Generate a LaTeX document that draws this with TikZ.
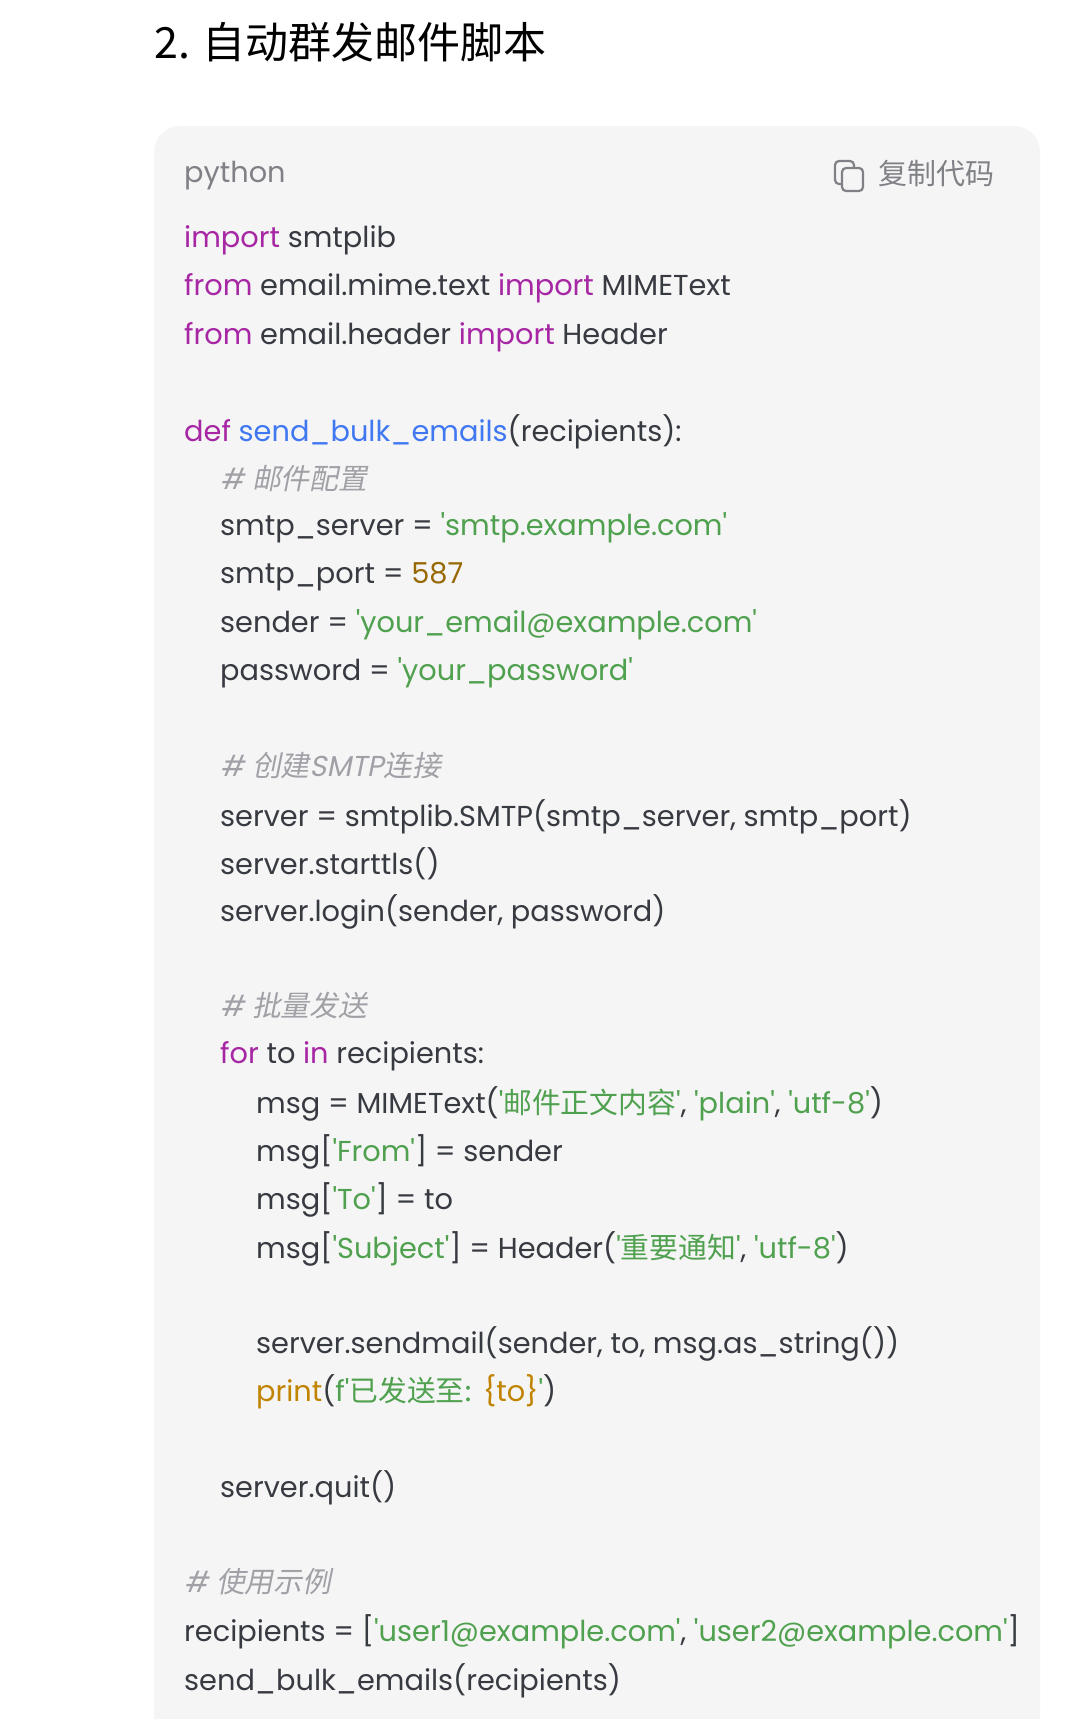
\documentclass[tikz,border=0pt]{standalone}
\usepackage{fontspec}
\setmainfont{Poppins}[Ligatures=TeXOff]
\newfontfamily\cjk{Noto Sans CJK SC}
\newfontfamily\cjkit{Noto Sans CJK SC}[FakeSlant=0.2]
\newfontfamily\latit{Poppins}[FakeSlant=0.2,Ligatures=TeXOff]
\definecolor{kw}{HTML}{A626A4}
\definecolor{fn}{HTML}{4078F2}
\definecolor{st}{HTML}{50A14F}
\definecolor{nm}{HTML}{986801}
\definecolor{pr}{HTML}{C18401}
\definecolor{cm}{HTML}{A0A1A7}
\definecolor{tx}{HTML}{383A42}
\definecolor{bg}{HTML}{F5F5F5}
\newcommand{\K}[1]{\textcolor{kw}{#1}}
\newcommand{\F}[1]{\textcolor{fn}{#1}}
\newcommand{\Sg}[1]{\textcolor{st}{#1}}
\newcommand{\Nm}[1]{\textcolor{nm}{#1}}
\newcommand{\Pt}[1]{\textcolor{pr}{#1}}
\newcommand{\C}[1]{{\cjk #1}}
\newcommand{\Cm}[1]{\textcolor{cm}{\latit\# \cjkit #1}}
\begin{document}
\begin{tikzpicture}[x=1pt,y=1pt,
  code/.style={anchor=west,inner sep=0pt,text=tx,font=\fontsize{28.8}{32}\selectfont},
  head/.style={anchor=west,inner sep=0pt,text=black,font=\fontsize{43}{46}\selectfont\cjk}]
\useasboundingbox (0,0) rectangle (1080,-1719);
\fill[white] (0,0) rectangle (1080,-1719);
\fill[bg,rounded corners=26pt] (154,-126) rectangle (1040,-1760);
\node[head] (title) at (154,-42) {2. 自动群发邮件脚本};
\node[code,text=cm!80!black] (lang) at (184,-176) {python};
\node[code,text=cm!80!black,font=\fontsize{29}{32}\selectfont\cjk] (copy) at (878,-174) {复制代码};
\draw[cm!80!black,line width=2.2pt,rounded corners=4pt] (835,-161) rectangle (854,-184);
\fill[bg] (842,-168) rectangle (863,-191);
\draw[cm!80!black,line width=2.2pt,rounded corners=4pt] (842,-168) rectangle (863,-191);
\node[code] (l1) at (184,-240) {\K{import} smtplib};
\node[code] (l2) at (184,-288) {\K{from} email.mime.text \K{import} MIMEText};
\node[code] (l3) at (184,-337) {\K{from} email.header \K{import} Header};
\node[code] (l4) at (184,-432) {\K{def} \F{send\_bulk\_emails}(recipients):};
\node[code] (l5) at (220,-479) {\Cm{邮件配置}};
\node[code] (l6) at (220,-528) {smtp\_server = \Sg{'smtp.example.com'}};
\node[code] (l7) at (220,-577) {smtp\_port = \Nm{587}};
\node[code] (l8) at (220,-625) {sender = \Sg{'your\_email@example.com'}};
\node[code] (l9) at (220,-673) {password = \Sg{'your\_password'}};
\node[code] (l10) at (220,-766) {\textcolor{cm}{\latit\# \cjkit 创建\latit SMTP\cjkit 连接}};
\node[code] (l11) at (220,-817) {server = smtplib.SMTP(smtp\_server, smtp\_port)};
\node[code] (l12) at (220,-864) {server.starttls()};
\node[code] (l13) at (220,-912) {server.login(sender, password)};
\node[code] (l14) at (220,-1006) {\Cm{批量发送}};
\node[code] (l15) at (220,-1056) {\K{for} to \K{in} recipients:};
\node[code] (l16) at (256,-1104) {msg = MIMEText(\Sg{'\C{邮件正文内容}'}, \Sg{'plain'}, \Sg{'utf-8'})};
\node[code] (l17) at (256,-1152) {msg[\Sg{'From'}] = sender};
\node[code] (l18) at (256,-1200) {msg[\Sg{'To'}] = to};
\node[code] (l19) at (256,-1249) {msg[\Sg{'Subject'}] = Header(\Sg{'\C{重要通知}'}, \Sg{'utf-8'})};
\node[code] (l20) at (256,-1344) {server.sendmail(sender, to, msg.as\_string())};
\node[code] (l21) at (256,-1392) {\Pt{print}(\Sg{f'\C{已发送至:} }\textcolor{pr}{\{to\}}\Sg{'})};
\node[code] (l22) at (220,-1488) {server.quit()};
\node[code] (l23) at (184,-1582) {\Cm{使用示例}};
\node[code] (l24) at (184,-1632) {recipients = [\Sg{'user1@example.com'}, \Sg{'user2@example.com'}]};
\node[code] (l25) at (184,-1681) {send\_bulk\_emails(recipients)};
\end{tikzpicture}
\end{document}
